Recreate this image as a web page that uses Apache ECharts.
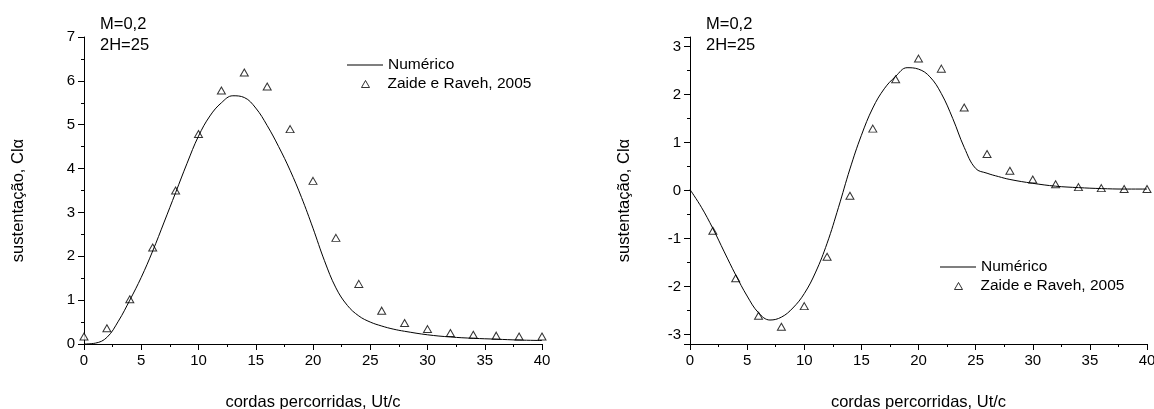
<!DOCTYPE html>
<html>
<head>
<meta charset="utf-8">
<script src="https://cdn.jsdelivr.net/npm/echarts@6/dist/echarts.min.js"></script>
<style>
  html, body { margin: 0; padding: 0; background: #fff; }
  #chart { width: 1154px; height: 409px; }
</style>
</head>
<body>
<div id="chart"></div>
<script>
// curva numérica (x em cordas percorridas)
const numX = [0,1,2,3,4,5,6,7,8,9,10,11,12,13,14,15,16,17,18,19,20,21,22,23,24,25,26,27,28,30,32,34,36,38,40]
const numLeft = [0,0.02,0.15,0.52,1.0,1.52,2.12,2.78,3.45,4.12,4.74,5.2,5.5,5.66,5.62,5.38,4.98,4.5,3.96,3.34,2.64,1.9,1.28,0.88,0.64,0.5,0.41,0.34,0.29,0.21,0.16,0.13,0.11,0.09,0.08]
const numRight = [0.02,-0.35,-0.79,-1.28,-1.76,-2.2,-2.55,-2.7,-2.64,-2.45,-2.15,-1.7,-1.1,-0.35,0.45,1.15,1.72,2.12,2.38,2.56,2.53,2.37,2.02,1.5,0.9,0.46,0.36,0.29,0.23,0.15,0.09,0.06,0.04,0.03,0.03]

// Zaide e Raveh, 2005
const expLeftX = [0,2,4,6,8,10,12,14,16,18,20,22,24,26,28,30,32,34,36,38,40]
const expLeft = [0.17,0.36,1.02,2.2,3.5,4.79,5.78,6.19,5.87,4.9,3.72,2.42,1.37,0.76,0.48,0.34,0.25,0.21,0.19,0.17,0.17]
const expRightX = [2,4,6,8,10,12,14,16,18,20,22,24,26,28,30,32,34,36,38,40]
const expRight = [-0.84,-1.83,-2.61,-2.84,-2.41,-1.38,-0.11,1.29,2.32,2.75,2.54,1.73,0.76,0.41,0.23,0.13,0.07,0.05,0.03,0.03]

const font = 'Liberation Sans, Arial, sans-serif'
const pairs = (xs, ys) => xs.map((x, i) => [x, ys[i]])

const mychart = echarts.init(document.getElementById('chart'))

function xAxisOf(idx) {
    return {
        type: 'value', gridIndex: idx, min: 0, max: 40,
        interval: 5, minInterval: 5, maxInterval: 5, splitNumber: 8,
        name: 'cordas percorridas, Ut/c', nameLocation: 'middle', nameGap: 50,
        nameTextStyle: { color: '#000', fontSize: 16.5, fontFamily: font },
        axisLine: { onZero: false, lineStyle: { color: '#000', width: 1 } },
        axisTick: { length: 6, lineStyle: { color: '#000' } },
        minorTick: { show: true, splitNumber: 2, length: 3, lineStyle: { color: '#000' } },
        splitLine: { show: false },
        axisLabel: { color: '#000', fontSize: 15, fontFamily: font, margin: 9 }
    }
}

function yAxisOf(idx, extra) {
    return Object.assign({
        type: 'value', gridIndex: idx,
        name: 'sustentação, Clα', nameLocation: 'middle', nameGap: 57,
        nameTextStyle: { color: '#000', fontSize: 16.5, fontFamily: font, padding: [0, 20, 0, 0] },
        axisLine: { show: true, onZero: false, lineStyle: { color: '#000', width: 1 } },
        axisTick: { length: 6, lineStyle: { color: '#000' } },
        minorTick: { show: true, splitNumber: 2, length: 3, lineStyle: { color: '#000' } },
        splitLine: { show: false },
        axisLabel: { color: '#000', fontSize: 15, fontFamily: font, margin: 9 }
    }, extra)
}

const triStyle = { color: '#fff', borderColor: '#000', borderWidth: 1 }
const legendText = { color: '#000', fontSize: 15.5, fontFamily: font }

// linha da legenda
function lineLegend(left, top) {
    return {
        left: left, top: top, padding: 0, selectedMode: false,
        itemWidth: 36, itemHeight: 1, icon: 'rect',
        itemStyle: { color: '#000', borderWidth: 0 },
        textStyle: legendText,
        data: ['Numérico']
    }
}

// triângulo da legenda
function triLegend(left, top) {
    return {
        left: left, top: top, padding: 0, selectedMode: false,
        itemWidth: 8, itemHeight: 7, icon: 'triangle',
        itemStyle: triStyle,
        textStyle: Object.assign({ padding: [0, 0, 0, 13] }, legendText),
        data: ['Zaide e Raveh, 2005']
    }
}

function note(x, y, txt) {
    return { type: 'text', left: x, top: y, style: { text: txt, fill: '#000', font: '16.5px ' + font } }
}

mychart.setOption({
    backgroundColor: '#fff',
    animation: false,
    grid: [
        { left: 84, top: 37, width: 458, height: 307, outerBoundsMode: 'none', containLabel: false },
        { left: 690, top: 37, width: 457, height: 307, outerBoundsMode: 'none', containLabel: false }
    ],
    xAxis: [xAxisOf(0), xAxisOf(1)],
    yAxis: [
        yAxisOf(0, { min: 0, max: 7, interval: 1 }),
        yAxisOf(1, { min: -3.2, max: 3.2, splitNumber: 6,
            axisLabel: { color: '#000', fontSize: 15, fontFamily: font, margin: 9, showMinLabel: false, showMaxLabel: false } })
    ],
    legend: [
        lineLegend(347, 57), triLegend(361, 76),
        lineLegend(940, 259), triLegend(954, 278)
    ],
    graphic: [
        note(100, 16, 'M=0,2'), note(100, 37, '2H=25'),
        note(706, 16, 'M=0,2'), note(706, 37, '2H=25')
    ],
    series: [
        {
            name: 'Numérico', type: 'line', xAxisIndex: 0, yAxisIndex: 0,
            data: pairs(numX, numLeft), smooth: 0.4, symbol: 'none',
            lineStyle: { color: '#000', width: 1 }, itemStyle: { color: '#000' }
        },
        {
            name: 'Zaide e Raveh, 2005', type: 'scatter', xAxisIndex: 0, yAxisIndex: 0,
            data: pairs(expLeftX, expLeft), symbol: 'triangle', symbolSize: [8, 7],
            itemStyle: triStyle
        },
        {
            name: 'Numérico', type: 'line', xAxisIndex: 1, yAxisIndex: 1,
            data: pairs(numX, numRight), smooth: 0.4, symbol: 'none',
            lineStyle: { color: '#000', width: 1 }, itemStyle: { color: '#000' }
        },
        {
            name: 'Zaide e Raveh, 2005', type: 'scatter', xAxisIndex: 1, yAxisIndex: 1,
            data: pairs(expRightX, expRight), symbol: 'triangle', symbolSize: [8, 7],
            itemStyle: triStyle
        }
    ]
})
</script>
</body>
</html>
